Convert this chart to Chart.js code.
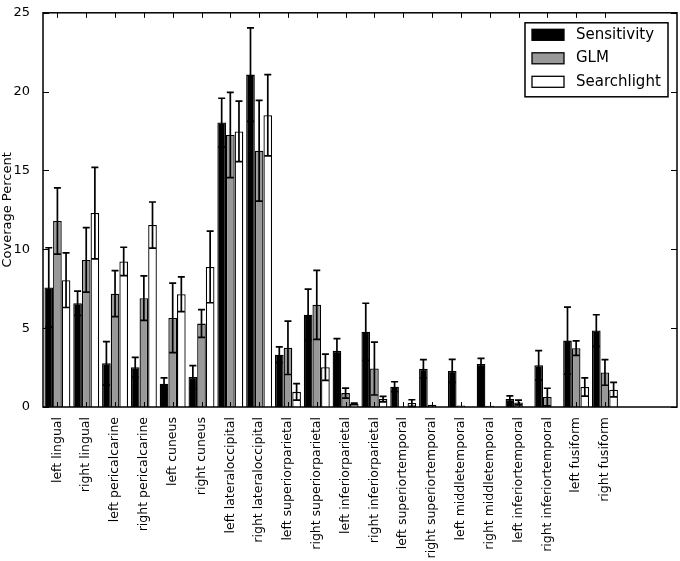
<!DOCTYPE html>
<html>
<head>
<meta charset="utf-8">
<title>Coverage Percent</title>
<script src="https://cdn.jsdelivr.net/npm/chart.js@4"></script>
<style>
  html, body { margin: 0; padding: 0; background: #fff; }
  #wrap { width: 680px; height: 561px; position: relative; }
</style>
</head>
<body>
<div id="wrap"><canvas id="chart"></canvas></div>
<script>
// Regiões (eixo x)
const regions = [
  'left lingual', 'right lingual', 'left pericalcarine', 'right pericalcarine',
  'left cuneus', 'right cuneus', 'left lateraloccipital', 'right lateraloccipital',
  'left superiorparietal', 'right superiorparietal', 'left inferiorparietal', 'right inferiorparietal',
  'left superiortemporal', 'right superiortemporal', 'left middletemporal', 'right middletemporal',
  'left inferiortemporal', 'right inferiortemporal', 'left fusiform', 'right fusiform'
];
// duas categorias vazias no fim, como no original
const padLabels = ['', ''];

// Séries
const sensitivity    = [7.58, 6.58, 2.77, 2.52, 1.48, 1.90, 18.04, 21.08, 3.31, 5.85, 3.56, 4.77, 1.29, 2.42, 2.29, 2.73, 0.50, 2.65, 4.21, 4.85];
const sensitivityErr = [2.52, 0.77, 1.38, 0.63, 0.37, 0.73, 1.54, 2.96, 0.50, 1.63, 0.77, 1.81, 0.31, 0.58, 0.73, 0.35, 0.21, 0.93, 2.12, 1.00];
const glm            = [11.80, 9.33, 7.19, 6.90, 5.65, 5.29, 17.25, 16.25, 3.75, 6.48, 0.88, 2.44, 0.00, 0.14, 0.10, 0.08, 0.29, 0.63, 3.73, 2.19];
const glmErr         = [2.10, 2.05, 1.46, 1.41, 2.20, 0.88, 2.70, 3.19, 1.69, 2.19, 0.32, 1.68, 0.00, 0.00, 0.00, 0.00, 0.15, 0.56, 0.46, 0.81];
const searchlight    = [8.04, 12.30, 9.23, 11.54, 7.15, 8.88, 17.48, 18.50, 0.96, 2.52, 0.20, 0.50, 0.25, 0.00, 0.00, 0.00, 0.00, 0.00, 1.27, 1.10];
const searchlightErr = [1.73, 2.90, 0.90, 1.46, 1.10, 2.27, 1.92, 2.58, 0.52, 0.83, 0.05, 0.17, 0.21, 0.00, 0.00, 0.00, 0.00, 0.00, 0.58, 0.46];

// Eixo y
const yTicks = [0, 5, 10, 15, 20, 25];

const FONT = "'DejaVu Sans', sans-serif";
const errors = [sensitivityErr, glmErr, searchlightErr];

// Barras de erro
const errorBarPlugin = {
  id: 'errorBars',
  afterDatasetsDraw(chart) {
    const ctx = chart.ctx;
    const y = chart.scales.y;
    ctx.save();
    ctx.strokeStyle = '#000';
    ctx.lineWidth = 1.7;
    chart.data.datasets.forEach(function(ds, i) {
      const meta = chart.getDatasetMeta(i);
      meta.data.forEach(function(bar, j) {
        const err = errors[i][j];
        if (!err) return;
        const v = ds.data[j];
        const yTop = y.getPixelForValue(v + err);
        const yBot = y.getPixelForValue(Math.max(0, v - err));
        const cap = 3.5;
        ctx.beginPath();
        ctx.moveTo(bar.x, yTop); ctx.lineTo(bar.x, yBot);
        ctx.moveTo(bar.x - cap, yTop); ctx.lineTo(bar.x + cap, yTop);
        ctx.moveTo(bar.x - cap, yBot); ctx.lineTo(bar.x + cap, yBot);
        ctx.stroke();
      });
    });
    ctx.restore();
  }
};

// Moldura e ticks para dentro (estilo matplotlib)
const framePlugin = {
  id: 'frame',
  afterDraw(chart) {
    const ctx = chart.ctx;
    const a = chart.chartArea;
    const x = chart.scales.x;
    const y = chart.scales.y;
    ctx.save();
    ctx.strokeStyle = '#000';
    ctx.lineWidth = 1;
    ctx.beginPath();
    for (let i = 0; i < regions.length; i++) {
      const px = Math.round(x.getPixelForValue(i)) + 0.5;
      ctx.moveTo(px, a.bottom); ctx.lineTo(px, a.bottom - 5);
      ctx.moveTo(px, a.top); ctx.lineTo(px, a.top + 5);
    }
    yTicks.forEach(function(t) {
      const py = Math.round(y.getPixelForValue(t)) + 0.5;
      ctx.moveTo(a.left, py); ctx.lineTo(a.left + 6, py);
      ctx.moveTo(a.right, py); ctx.lineTo(a.right - 6, py);
    });
    ctx.stroke();
    ctx.lineWidth = 1.5;
    ctx.strokeRect(a.left, a.top, a.right - a.left, a.bottom - a.top);
    ctx.restore();
  }
};

// Legenda dentro da área do gráfico
const legendPlugin = {
  id: 'boxLegend',
  afterDraw(chart) {
    const ctx = chart.ctx;
    const a = chart.chartArea;
    const w = 143, h = 74;
    const left = a.right - 9 - w;
    const top = a.top + 10;
    ctx.save();
    ctx.fillStyle = '#fff';
    ctx.fillRect(left, top, w, h);
    ctx.strokeStyle = '#000';
    ctx.lineWidth = 1.5;
    ctx.strokeRect(left, top, w, h);
    ctx.font = '15px ' + FONT;
    ctx.textBaseline = 'middle';
    chart.data.datasets.forEach(function(ds, i) {
      const cy = top + 12 + i * 23.5;
      ctx.fillStyle = ds.backgroundColor;
      ctx.fillRect(left + 7, cy - 5.5, 32, 11);
      ctx.lineWidth = 1.3;
      ctx.strokeRect(left + 7, cy - 5.5, 32, 11);
      ctx.fillStyle = '#000';
      ctx.fillText(ds.label, left + 51, cy);
    });
    ctx.restore();
  }
};

const ctx = document.getElementById('chart').getContext('2d');
new Chart(ctx, {
  type: 'bar',
  data: {
    labels: regions.concat(padLabels),
    datasets: [
      { label: 'Sensitivity', data: sensitivity, backgroundColor: '#000000', borderColor: '#000', borderWidth: 1.3 },
      { label: 'GLM', data: glm, backgroundColor: '#999999', borderColor: '#000', borderWidth: 1.3 },
      { label: 'Searchlight', data: searchlight, backgroundColor: '#ffffff', borderColor: '#000', borderWidth: 1.3 }
    ]
  },
  options: {
    responsive: true,
    maintainAspectRatio: false,
    animation: false,
    layout: { padding: { top: 7, right: 3, left: 0, bottom: 0 } },
    datasets: { bar: { categoryPercentage: 0.9, barPercentage: 1.0 } },
    plugins: {
      legend: { display: false },
      tooltip: { enabled: false }
    },
    scales: {
      x: {
        grid: { display: false },
        border: { display: false },
        ticks: {
          autoSkip: false,
          minRotation: 90,
          maxRotation: 90,
          padding: 2,
          color: '#000',
          font: { family: FONT, size: 12.5 }
        },
        afterFit: function(scale) { scale.height = 154; }
      },
      y: {
        min: 0,
        max: 25,
        grid: { display: false },
        border: { display: false },
        ticks: {
          stepSize: 5,
          padding: 5,
          color: '#000',
          font: { family: FONT, size: 13 }
        },
        title: {
          display: true,
          text: 'Coverage Percent',
          color: '#000',
          padding: 0,
          font: { family: FONT, size: 13 }
        },
        afterFit: function(scale) { scale.width = 43; }
      }
    }
  },
  plugins: [errorBarPlugin, framePlugin, legendPlugin]
});
</script>
</body>
</html>
